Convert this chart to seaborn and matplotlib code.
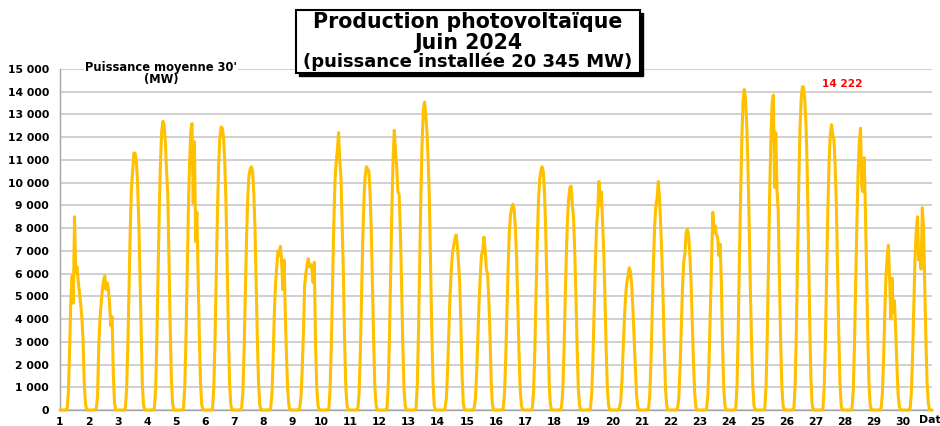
import matplotlib
matplotlib.use("Agg")
import matplotlib.pyplot as plt
import seaborn as sns
import pandas as pd
from matplotlib.patches import Rectangle
from matplotlib.ticker import FuncFormatter, MultipleLocator

# half-hourly average output read hour by hour, June 2024 (MW)
# each list = hours 6h..22h, night hours are 0
daylight_hours = list(range(6, 23))
days = list(range(1, 31))

d01 = [100, 900, 2800, 4900, 5900, 4700, 8500, 6000, 6300, 5700, 5200, 4700, 4100, 3100, 1200, 300, 0]
d02 = [100, 600, 2800, 4000, 4700, 5300, 5700, 5900, 5300, 5600, 5300, 4600, 3700, 4100, 1600, 300, 0]
d03 = [100, 900, 2800, 5400, 7900, 9800, 10500, 11300, 11300, 11000, 10000, 8400, 5900, 3200, 1100, 200, 0]
d04 = [100, 1000, 3200, 6100, 8900, 11000, 12300, 12700, 12500, 11800, 10500, 9500, 6600, 3600, 1300, 250, 0]
d05 = [100, 1000, 3100, 6000, 8800, 10900, 12300, 12600, 9100, 11800, 7400, 8700, 6000, 3400, 1200, 250, 0]
d06 = [100, 1000, 3100, 6000, 8700, 10800, 12000, 12450, 12400, 12000, 11000, 9200, 6500, 3500, 1200, 250, 0]
d07 = [100, 800, 2600, 5100, 7500, 9300, 10300, 10600, 10700, 10500, 9600, 8000, 5600, 3000, 1100, 200, 0]
d08 = [100, 700, 2300, 4300, 5600, 6300, 7000, 6800, 7200, 6500, 5300, 6600, 4300, 2400, 900, 200, 0]
d09 = [100, 600, 1800, 3400, 5500, 6000, 6400, 6650, 6300, 6400, 6200, 5600, 6500, 2900, 1000, 200, 0]
d10 = [100, 900, 2800, 5500, 8000, 10000, 10900, 11400, 12200, 11000, 10200, 8000, 6000, 3000, 1000, 200, 0]
d11 = [100, 800, 2600, 5100, 7500, 9300, 10300, 10700, 10600, 10500, 9600, 7900, 5500, 3000, 1000, 200, 0]
d12 = [100, 1000, 3100, 6000, 8800, 11000, 12300, 11400, 10700, 9600, 9500, 7900, 5600, 3000, 1000, 200, 0]
d13 = [100, 1100, 3400, 6500, 9500, 11800, 13200, 13550, 13000, 12200, 11000, 9200, 6400, 3400, 1200, 200, 0]
d14 = [100, 500, 1700, 3300, 5000, 6100, 6900, 7200, 7500, 7700, 7300, 6500, 5600, 3800, 1500, 300, 0]
d15 = [100, 500, 1600, 3100, 4700, 5900, 6800, 7000, 7600, 7100, 6200, 6000, 5000, 3400, 1300, 250, 0]
d16 = [100, 700, 2200, 4300, 6300, 7800, 8600, 8900, 9050, 8800, 8000, 6700, 4700, 2500, 900, 200, 0]
d17 = [100, 800, 2500, 4900, 7300, 9100, 10100, 10500, 10700, 10500, 9600, 8000, 5600, 3000, 1000, 200, 0]
d18 = [100, 700, 2300, 4500, 6700, 8400, 9300, 9800, 9850, 9000, 8500, 7000, 5000, 2700, 900, 200, 0]
d19 = [100, 700, 2200, 4300, 6400, 8000, 8800, 10050, 9000, 9600, 8300, 6900, 4900, 2600, 900, 200, 0]
d20 = [100, 400, 1300, 2700, 4000, 5000, 5600, 5900, 6250, 6100, 5500, 4500, 3200, 1800, 700, 150, 0]
d21 = [100, 700, 2200, 4400, 6500, 8100, 9000, 9300, 10050, 9300, 8100, 6700, 4800, 2600, 900, 200, 0]
d22 = [100, 600, 1900, 3700, 5400, 6500, 6900, 7800, 7950, 7700, 6900, 5700, 4000, 2200, 800, 150, 0]
d23 = [100, 700, 2300, 4500, 6600, 8700, 7800, 8100, 7700, 7600, 6800, 7300, 5800, 3000, 1000, 200, 0]
d24 = [100, 1100, 3500, 6700, 9500, 12000, 13600, 14100, 13700, 12600, 10800, 8300, 5400, 3000, 1100, 200, 0]
d25 = [100, 1100, 3400, 6600, 9600, 12000, 13500, 13850, 9800, 12200, 9700, 8800, 5800, 3100, 1100, 200, 0]
d26 = [100, 1100, 3500, 6800, 9900, 12400, 13700, 14222, 14200, 13600, 12500, 10500, 7300, 4000, 1400, 250, 0]
d27 = [100, 1000, 3100, 6000, 8800, 10900, 12100, 12550, 12100, 11900, 10800, 9100, 6300, 3400, 1200, 200, 0]
d28 = [100, 900, 2900, 5700, 8300, 10500, 11800, 12400, 9800, 9600, 11100, 8800, 5900, 3200, 1100, 200, 0]
d29 = [100, 700, 2200, 4200, 5900, 6700, 7250, 5800, 4000, 5800, 4300, 4800, 3500, 2000, 700, 150, 0]
d30 = [100, 800, 2500, 4700, 6700, 7900, 8500, 6600, 6900, 6200, 8900, 8000, 5600, 3000, 1100, 300, 0]

day_values = [d01, d02, d03, d04, d05, d06, d07, d08, d09, d10,
              d11, d12, d13, d14, d15, d16, d17, d18, d19, d20,
              d21, d22, d23, d24, d25, d26, d27, d28, d29, d30]

max_label = "14 222"
LINE = "#FFC000"
GRID = "#C8C8C8"

rows = []
for day, vals in zip(days, day_values):
    for h in range(24):
        if daylight_hours[0] <= h <= daylight_hours[-1]:
            v = vals[h - daylight_hours[0]]
        else:
            v = 0
        rows.append((day + h / 24.0, v))
rows.append((31, 0))
df = pd.DataFrame(rows, columns=["t", "mw"])

sns.set_style("white")
plt.rcParams["font.family"] = ["DejaVu Sans"]
plt.rcParams["font.weight"] = "bold"
plt.rcParams["text.color"] = "black"
plt.rcParams["xtick.labelcolor"] = "black"
plt.rcParams["ytick.labelcolor"] = "black"

W, H = 940, 426
fig = plt.figure(figsize=(W / 100, H / 100), dpi=100)
ax = fig.add_axes([60 / W, 16 / H, 872 / W, 341 / H])


def fx(px):
    return px / W


def fy(py):
    return 1 - py / H


sns.lineplot(data=df, x="t", y="mw", ax=ax, color=LINE, linewidth=2.2,
             estimator=None, errorbar=None, clip_on=False, zorder=3)

ax.set_xlim(1, 31)
ax.set_ylim(0, 15000)
ax.set_xlabel("")
ax.set_ylabel("")

ax.set_xticks(days)
ax.set_xticklabels([str(d) for d in days])
ax.xaxis.set_minor_locator(MultipleLocator(0.5))
ax.set_yticks(range(0, 15001, 1000))
ax.yaxis.set_major_formatter(FuncFormatter(lambda v, p: f"{int(v):,}".replace(",", " ")))

ax.grid(axis="y", color=GRID, linewidth=1.2)
ax.grid(axis="x", visible=False)
ax.set_axisbelow(True)
for s in ["top", "right"]:
    ax.spines[s].set_visible(False)
for s in ["left", "bottom"]:
    ax.spines[s].set_color("#A6A6A6")
    ax.spines[s].set_linewidth(1.0)

ax.tick_params(axis="y", which="major", length=3, width=1, color="#A6A6A6",
               labelsize=7.8, pad=5, labelcolor="black")
ax.tick_params(axis="x", which="both", length=3, width=1, color="#A6A6A6",
               labelsize=7.8, pad=2, labelcolor="black")
for lab in ax.get_xticklabels() + ax.get_yticklabels():
    lab.set_fontweight("bold")

# unit label over the top gridline
fig.text(fx(161), fy(67), "Puissance moyenne 30'", ha="center", va="center",
         fontsize=8.3, fontweight="bold",
         bbox=dict(facecolor="white", edgecolor="none", pad=0.6), zorder=6)
fig.text(fx(161), fy(79), "(MW)", ha="center", va="center",
         fontsize=8.3, fontweight="bold", zorder=6)

# maximum of the month
fig.text(fx(842), fy(84), max_label, ha="center", va="center",
         fontsize=7.6, fontweight="bold", color="#FF0000")

fig.text(fx(919), fy(420), "Date", ha="left", va="center",
         fontsize=7.8, fontweight="bold")

# title box with shadow
fig.add_artist(Rectangle((fx(299), fy(76)), (640 - 296) / W, (73 - 10) / H,
                         transform=fig.transFigure, facecolor="black",
                         edgecolor="black", zorder=5))
fig.add_artist(Rectangle((fx(296), fy(73)), (640 - 296) / W, (73 - 10) / H,
                         transform=fig.transFigure, facecolor="white",
                         edgecolor="black", linewidth=1.5, zorder=5))
fig.text(fx(468), fy(22), "Production photovoltaïque", ha="center", va="center",
         fontsize=14.8, fontweight="bold", zorder=6)
fig.text(fx(468), fy(43), "Juin 2024", ha="center", va="center",
         fontsize=14.8, fontweight="bold", zorder=6)
fig.text(fx(468), fy(62), "(puissance installée 20 345 MW)", ha="center",
         va="center", fontsize=13, fontweight="bold", zorder=6)

fig.savefig("out.png", dpi=100)
